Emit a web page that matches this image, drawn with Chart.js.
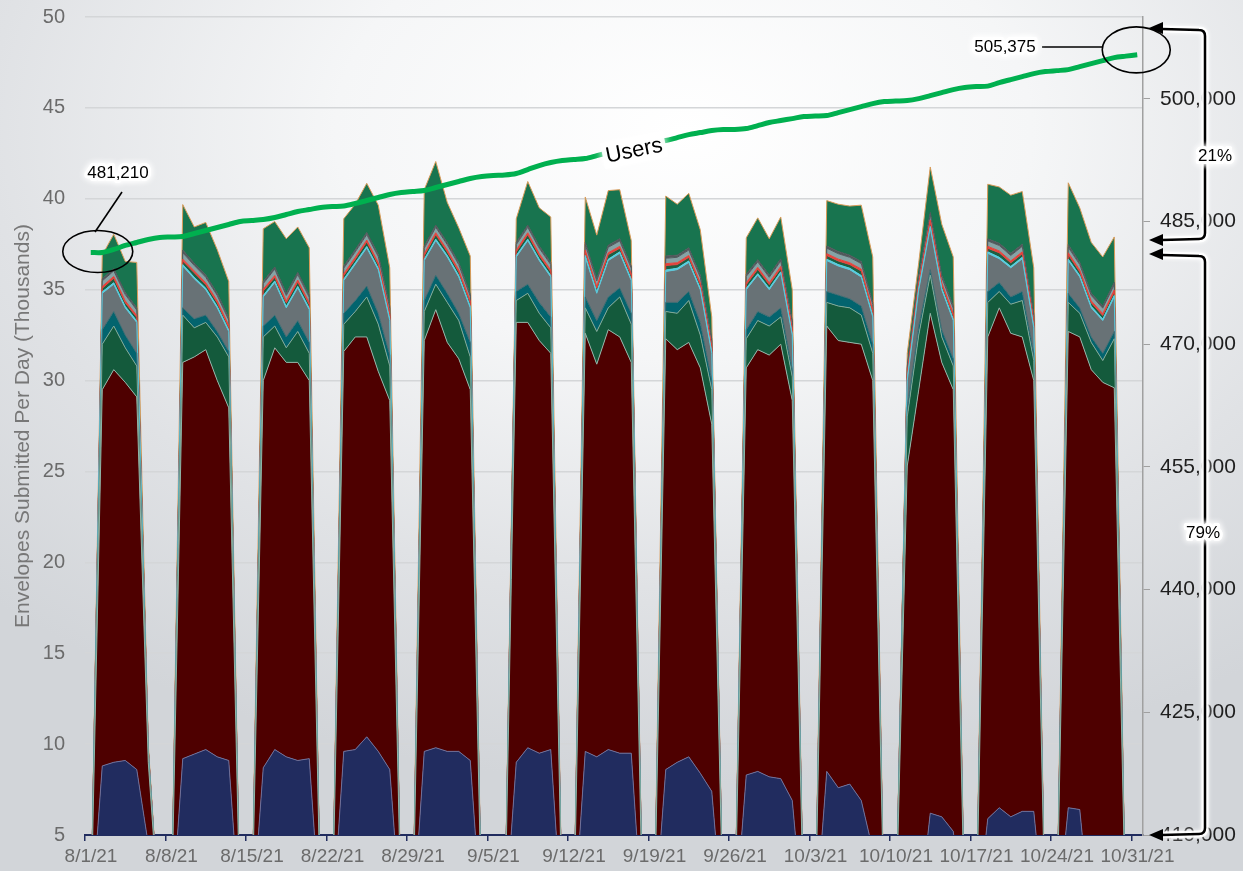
<!DOCTYPE html>
<html>
<head>
<meta charset="utf-8">
<script src="https://cdn.jsdelivr.net/npm/chart.js@4.4.0/dist/chart.umd.min.js"></script>
<style>
  html, body { margin: 0; padding: 0; width: 1243px; height: 871px; overflow: hidden;
    background: radial-gradient(ellipse 80% 75% at 55% 15%, #ffffff 0%, #f5f6f7 35%, #e0e2e5 70%, #d2d5d9 100%); }
</style>
</head>
<body>
<canvas id="canvas-1" width="1243" height="871"></canvas>
<script>
// weekday values (Mon..Fri) for the 13 weeks starting Sun 8/1/21, thousands of envelopes
const navy = [
  8.8, 9.0, 9.1, 8.6, 4.5,   9.2, 9.45, 9.7, 9.3, 9.1,   8.7, 9.7, 9.3, 9.1, 9.2,
  9.6, 9.7, 10.4, 9.6, 8.6,  9.6, 9.8, 9.6, 9.6, 9.1,    0, 9.0, 9.8, 9.5, 9.7,
  9.6, 9.3, 9.7, 9.5, 9.5,   8.6, 9.0, 9.3, 8.4, 7.4,    8.3, 8.5, 8.2, 8.1, 6.9,
  8.5, 7.6, 7.8, 6.9, 4.2,   0, 0.5, 6.2, 6.0, 5.2,      5.9, 6.5, 6.0, 6.3, 6.3,
  6.5, 6.4, 0, 0, 0
];
const maroon = [
  20.7, 21.6, 20.8, 20.5, 4.5,  21.8, 21.85, 22.0, 20.7, 19.4,  21.3, 22.1, 21.7, 21.9, 20.8,
  22.0, 22.7, 22.0, 20.9, 20.3, 22.6, 24.1, 22.5, 21.6, 20.4,   0, 24.2, 23.4, 22.7, 21.8,
  23.0, 21.6, 23.1, 22.9, 21.5, 23.7, 22.7, 22.8, 22.3, 20.2,   22.4, 23.2, 23.2, 23.9, 22.0,
  24.5, 24.6, 24.3, 25.1, 25.8, 25.3, 29.0, 27.5, 25.0, 24.3,   26.5, 27.5, 26.6, 26.1, 23.7,
  26.2, 26.0, 30.6, 29.9, 29.6
];
const darkGreen = [
  2.5, 2.4, 1.9, 1.7, 0.3,  2.6, 1.6, 1.5, 2.4, 2.8,  2.4, 1.2, 0.8, 1.7, 1.5,
  1.5, 1.4, 2.2, 2.6, 1.9,  1.6, 1.4, 2.2, 2.1, 1.8,  0, 1.2, 1.6, 1.5, 1.4,
  1.4, 1.8, 1.2, 2.2, 2.1,  1.5, 2.0, 2.3, 1.8, 1.9,  1.6, 1.6, 1.6, 1.5, 1.3,
  1.3, 1.9, 1.9, 1.6, 1.5,  2.7, 3.0, 2.1, 1.4, 1.3,  1.9, 0.9, 1.6, 2.0, 1.1,
  1.6, 1.3, 1.5, 1.2, 2.7
];
const teal = [
  0.8, 0.8, 0.7, 0.7, 0.1,  0.4, 0.5, 0.4, 0.3, 0.3,  0.6, 0.6, 0.6, 0.6, 0.6,
  0.6, 0.6, 0.6, 0.6, 0.6,  0.6, 0.5, 0.5, 0.4, 0.8,  0, 0.5, 0.5, 0.6, 0.6,
  0.6, 0.6, 0.6, 0.5, 0.6,  0.5, 0.6, 0.5, 0.7, 0.5,  0.5, 0.5, 0.5, 0.5, 0.4,
  0.6, 0.6, 0.5, 0.5, 0.5,  0.5, 0.5, 0.3, 0.4, 0.4,  0.6, 0.5, 0.4, 0.5, 0.4,
  0.5, 0.3, 0.3, 0.4, 0.4
];
const gray = [
  2.0, 1.5, 1.5, 1.7, 0.2,  2.3, 2.2, 1.4, 1.3, 1.1,  1.6, 1.8, 1.6, 1.8, 1.8,
  1.8, 2.0, 2.1, 2.4, 1.9,  2.2, 1.9, 2.0, 2.0, 1.9,  0, 1.9, 2.4, 2.3, 2.2,
  2.2, 1.5, 2.0, 1.9, 1.8,  1.7, 1.8, 1.6, 1.8, 1.5,  2.2, 2.0, 1.5, 1.9, 1.9,
  1.7, 1.6, 1.6, 1.6, 1.5,  1.5, 2.0, 2.3, 2.2, 2.1,  2.1, 1.3, 1.6, 1.8, 1.4,
  1.8, 1.7, 1.6, 1.8, 1.9
];
const cyan = [
  0.08, 0.08, 0.08, 0.08, 0.02,  0.08, 0.08, 0.08, 0.08, 0.08,  0.08, 0.08, 0.08, 0.08, 0.08,
  0.08, 0.08, 0.08, 0.08, 0.08,  0.08, 0.08, 0.08, 0.08, 0.08,  0, 0.08, 0.08, 0.08, 0.08,
  0.08, 0.08, 0.08, 0.08, 0.08,  0.08, 0.08, 0.08, 0.08, 0.08,  0.08, 0.08, 0.08, 0.08, 0.08,
  0.08, 0.08, 0.08, 0.08, 0.08,  0.08, 0.08, 0.08, 0.08, 0.08,  0.08, 0.08, 0.08, 0.08, 0.08,
  0.08, 0.08, 0.08, 0.08, 0.08
];
const darkGreen2 = [
  0.2, 0.25, 0.2, 0.2, 0.05,  0.2, 0.25, 0.2, 0.2, 0.15,  0.25, 0.2, 0.2, 0.25, 0.2,
  0.2, 0.2, 0.25, 0.2, 0.2,   0.2, 0.25, 0.2, 0.2, 0.2,   0, 0.2, 0.25, 0.2, 0.2,
  0.2, 0.2, 0.25, 0.2, 0.2,   0.25, 0.2, 0.2, 0.2, 0.2,   0.2, 0.25, 0.2, 0.2, 0.2,
  0.2, 0.2, 0.2, 0.25, 0.2,   0.2, 0.2, 0.25, 0.2, 0.2,   0.2, 0.25, 0.2, 0.2, 0.2,
  0.25, 0.2, 0.2, 0.2, 0.2
];
const red = [
  0.1, 0.1, 0.1, 0.1, 0.02,  0.1, 0.1, 0.1, 0.1, 0.1,  0.1, 0.1, 0.1, 0.1, 0.1,
  0.1, 0.1, 0.1, 0.1, 0.1,   0.1, 0.1, 0.1, 0.1, 0.1,  0, 0.1, 0.1, 0.1, 0.1,
  0.1, 0.1, 0.1, 0.1, 0.1,   0.1, 0.1, 0.1, 0.1, 0.1,  0.1, 0.1, 0.1, 0.1, 0.1,
  0.1, 0.1, 0.1, 0.1, 0.1,   0.1, 0.1, 0.1, 0.1, 0.1,  0.1, 0.1, 0.1, 0.1, 0.1,
  0.1, 0.1, 0.1, 0.1, 0.1
];
const lightGray = [
  0.3, 0.3, 0.35, 0.3, 0.05,  0.35, 0.3, 0.3, 0.3, 0.3,   0.3, 0.35, 0.3, 0.3, 0.3,
  0.3, 0.3, 0.3, 0.35, 0.3,   0.3, 0.3, 0.3, 0.3, 0.25,   0, 0.3, 0.3, 0.3, 0.3,
  0.3, 0.3, 0.3, 0.3, 0.3,    0.3, 0.3, 0.3, 0.3, 0.3,    0.35, 0.3, 0.3, 0.3, 0.3,
  0.3, 0.3, 0.3, 0.3, 0.3,    0.3, 0.3, 0.3, 0.3, 0.3,    0.3, 0.3, 0.3, 0.3, 0.3,
  0.3, 0.3, 0.3, 0.3, 0.3
];
const darkGray = [
  0.12, 0.12, 0.12, 0.12, 0.03,  0.15, 0.12, 0.12, 0.12, 0.12,  0.12, 0.12, 0.12, 0.12, 0.12,
  0.12, 0.12, 0.12, 0.12, 0.12,  0.12, 0.12, 0.12, 0.12, 0.12,  0, 0.12, 0.12, 0.12, 0.12,
  0.12, 0.12, 0.12, 0.12, 0.12,  0.12, 0.12, 0.12, 0.12, 0.12,  0.12, 0.12, 0.12, 0.12, 0.12,
  0.12, 0.12, 0.12, 0.12, 0.12,  0.12, 0.12, 0.12, 0.12, 0.12,  0.12, 0.12, 0.12, 0.12, 0.12,
  0.15, 0.12, 0.12, 0.12, 0.12
];
const topGreen = [
  1.3, 1.9, 1.7, 2.5, 0.23,  2.5, 2.0, 2.9, 2.4, 2.0,  2.9, 2.5, 3.0, 2.5, 2.6,
  2.6, 2.5, 2.7, 2.7, 2.1,   3.1, 3.5, 2.2, 1.9, 2.1,  0, 1.3, 2.4, 2.1, 2.5,
  2.5, 2.4, 3.0, 2.7, 1.4,   3.3, 2.8, 3.0, 2.5, 1.2,  2.0, 2.3, 2.0, 2.3, 1.7,
  2.5, 2.6, 2.7, 3.1, 2.5,   0.7, 0.7, 2.5, 2.8, 2.7,  3.0, 3.1, 3.2, 2.9, 2.5,
  3.4, 3.0, 2.8, 2.7, 2.5
];
// total users, one per day 8/1/21 .. 10/31/21
const users = [
  481210, 481210, 481580, 482070, 482435, 482800, 483045,
  483105, 483170, 483535, 483900, 484265, 484635, 485000,
  485120, 485245, 485490, 485855, 486220, 486465, 486710,
  486830, 486895, 487200, 487565, 487930, 488300, 488540,
  488665, 488785, 489155, 489520, 489885, 490255, 490495,
  490620, 490680, 490865, 491350, 491840, 492205, 492450,
  492575, 492695, 493060, 493430, 493795, 494160, 494405,
  494650, 494895, 495260, 495625, 495870, 496115, 496240,
  496240, 496360, 496725, 497095, 497340, 497580, 497825,
  497885, 497950, 498315, 498680, 499045, 499415, 499660,
  499720, 499780, 500025, 500390, 500755, 501125, 501370,
  501490, 501550, 501980, 502345, 502710, 503080, 503325,
  503445, 503565, 503935, 504300, 504665, 505035, 505215,
  505375
];
// tick positions: days since 8/1/21, and right-axis user counts
const dateTicks = [0, 7, 14, 21, 28, 35, 42, 49, 56, 63, 70, 77, 84, 91];
const userTicks = [410000, 425000, 440000, 455000, 470000, 485000, 500000];
const dayCount = users.length; // 92
const FONT = "'Liberation Sans', Arial, sans-serif";

// spread weekday values over every day, weekends are zero
function daily(arr) {
  const out = [];
  for (let i = 0; i < dayCount; i++) {
    const dow = i % 7;
    let v = 0;
    if (dow >= 1 && dow <= 5) v = arr[Math.floor(i / 7) * 5 + dow - 1];
    out.push({ x: i + 0.5, y: v });
  }
  return out;
}

function area(label, arr, color, edge) {
  return {
    label: label,
    data: daily(arr),
    backgroundColor: color,
    borderColor: edge || color,
    borderWidth: 1,
    fill: "-1",
    pointRadius: 0,
    tension: 0,
    yAxisID: "y",
  };
}

// no extra room for overflowing tick labels, the plot box is fixed
function noPad(s) {
  s.paddingTop = 0;
  s.paddingBottom = 0;
  s.paddingLeft = 0;
  s.paddingRight = 0;
}

const notes = {
  id: "notes",
  afterDraw(chart) {
    const ctx = chart.ctx;
    const xs = chart.scales.x, ys = chart.scales.y1;
    const px0 = xs.getPixelForValue(0.5), py0 = ys.getPixelForValue(users[0]);
    const px1 = xs.getPixelForValue(dayCount - 0.5), py1 = ys.getPixelForValue(users[dayCount - 1]);

    function glowText(txt, x, y, size) {
      ctx.save();
      ctx.font = size + "px " + FONT;
      ctx.textAlign = "center";
      ctx.textBaseline = "middle";
      ctx.shadowColor = "#fff";
      ctx.shadowBlur = 6;
      ctx.strokeStyle = "rgba(255,255,255,0.95)";
      ctx.lineWidth = 6;
      ctx.lineJoin = "round";
      ctx.strokeText(txt, x, y);
      ctx.strokeText(txt, x, y);
      ctx.shadowBlur = 0;
      ctx.fillStyle = "#000";
      ctx.fillText(txt, x, y);
      ctx.restore();
    }
    function arrowHead(x, y) {
      ctx.beginPath();
      ctx.moveTo(x, y);
      ctx.lineTo(x + 14, y - 6);
      ctx.lineTo(x + 14, y + 6);
      ctx.closePath();
      ctx.fill();
    }
    function bracket(yTop, yBot) {
      const path = () => {
        ctx.beginPath();
        ctx.moveTo(1162, yTop);
        ctx.lineTo(1199, yTop + 1);
        ctx.quadraticCurveTo(1205, yTop + 1, 1205, yTop + 7);
        ctx.lineTo(1205, yBot - 6);
        ctx.quadraticCurveTo(1205, yBot, 1199, yBot);
        ctx.lineTo(1162, yBot + 1);
      };
      ctx.save();
      ctx.strokeStyle = "rgba(255,255,255,0.9)";
      ctx.shadowColor = "#fff";
      ctx.shadowBlur = 4;
      ctx.lineWidth = 7;
      path(); ctx.stroke();
      ctx.restore();
      ctx.strokeStyle = "#000";
      ctx.lineWidth = 2.5;
      path(); ctx.stroke();
      arrowHead(1149, yTop - 1);
      arrowHead(1149, yBot + 1);
    }

    ctx.save();
    ctx.strokeStyle = "#000";
    ctx.fillStyle = "#000";
    ctx.lineWidth = 1.6;
    ctx.beginPath(); ctx.ellipse(px0 + 7, py0 - 1, 35, 21, 0, 0, Math.PI * 2); ctx.stroke();
    ctx.beginPath(); ctx.ellipse(px1 - 1, py1 - 5, 34, 23, 0, 0, Math.PI * 2); ctx.stroke();
    ctx.beginPath(); ctx.moveTo(122, 192); ctx.lineTo(95, 232); ctx.stroke();
    ctx.beginPath(); ctx.moveTo(1042, 47); ctx.lineTo(1102, 47); ctx.stroke();

    glowText(users[0].toLocaleString("en-US"), 118, 173, 17);
    glowText(users[dayCount - 1].toLocaleString("en-US"), 1005, 47, 17);

    bracket(29, 239);
    bracket(255, 834);
    glowText("21%", 1215, 156, 17);
    glowText("79%", 1203, 533, 17);

    // series label on the users line
    ctx.save();
    ctx.translate(634, 150);
    ctx.rotate(-0.2);
    ctx.fillStyle = "rgba(255,255,255,0.95)";
    ctx.shadowColor = "#fff";
    ctx.shadowBlur = 8;
    ctx.fillRect(-32, -13, 64, 26);
    ctx.shadowBlur = 0;
    ctx.font = "22px " + FONT;
    ctx.textAlign = "center";
    ctx.textBaseline = "middle";
    ctx.fillStyle = "#000";
    ctx.fillText("Users", 0, 1);
    ctx.restore();
    ctx.restore();
  },
};

const usersSet = {
  label: "Users",
  data: users.map((v, i) => ({ x: i + 0.5, y: v })),
  borderColor: "#00b04f",
  borderWidth: 5,
  pointRadius: 0,
  fill: false,
  tension: 0.3,
  yAxisID: "y1",
};

const navySet = area("Envelopes A", navy, "#212c5f", "#6f6f98");
navySet.fill = "origin";

const mainChart = new Chart(document.getElementById("canvas-1"), {
  type: "line",
  data: {
    datasets: [
      usersSet,
      navySet,
      area("Envelopes B", maroon, "#4e0000", "#8fb5a8"),
      area("Envelopes C", darkGreen, "#145a3c", "#7fa898"),
      area("Envelopes D", teal, "#03646e", "#3f6a70"),
      area("Envelopes E", gray, "#687276", "#59c9dc"),
      area("Envelopes F", cyan, "#52cfe0"),
      area("Envelopes G", darkGreen2, "#1e5f41", "#e5413a"),
      area("Envelopes H", red, "#e5413a"),
      area("Envelopes I", lightGray, "#86a3a5", "#50585b"),
      area("Envelopes J", darkGray, "#50585b"),
      area("Envelopes K", topGreen, "#18744f", "#d99a58"),
    ],
  },
  options: {
    responsive: false,
    animation: false,
    layout: { padding: { top: 17, left: 0, right: 0, bottom: 0 } },
    plugins: { legend: { display: false }, tooltip: { enabled: false } },
    scales: {
      x: {
        type: "linear",
        min: 0,
        max: dayCount,
        z: 1,
        afterFit: (s) => { s.height = 36; noPad(s); },
        afterBuildTicks: (s) => { s.ticks = dateTicks.map((v) => ({ value: v })); },
        border: { color: "#212c5f", width: 2 },
        grid: { drawOnChartArea: false, color: "#212c5f", tickLength: 6, lineWidth: 1.5 },
        ticks: {
          autoSkip: false,
          maxRotation: 0,
          labelOffset: 6,
          padding: 4,
          color: "#6b6b6b",
          font: { family: FONT, size: 19 },
          callback: (v) => {
            const d = new Date(2021, 7, 1 + v);
            return d.getMonth() + 1 + "/" + d.getDate() + "/21";
          },
        },
      },
      y: {
        stacked: true,
        min: 5,
        max: 50,
        afterFit: (s) => { s.width = 85; noPad(s); },
        border: { display: false },
        grid: { color: "#d4d6d8", lineWidth: 1.5, drawTicks: false },
        ticks: { stepSize: 5, padding: 20, color: "#6b6b6b", font: { family: FONT, size: 20 } },
        title: {
          display: true,
          text: "Envelopes Submitted Per Day (Thousands)",
          color: "#777",
          font: { family: FONT, size: 21 },
          padding: { top: 11, bottom: 0 },
        },
      },
      y1: {
        position: "right",
        min: 410000,
        max: 510000,
        afterFit: (s) => { s.width = 100; noPad(s); },
        afterBuildTicks: (s) => { s.ticks = userTicks.map((v) => ({ value: v })); },
        border: { color: "#a0a0a0", width: 1.5 },
        grid: { drawOnChartArea: false, color: "#a0a0a0", tickLength: 7 },
        ticks: {
          autoSkip: false,
          padding: 10,
          color: "#1e1e1e",
          font: { family: FONT, size: 21 },
          callback: (v) => v.toLocaleString("en-US"),
        },
      },
    },
  },
  plugins: [notes],
});
</script>
</body>
</html>
